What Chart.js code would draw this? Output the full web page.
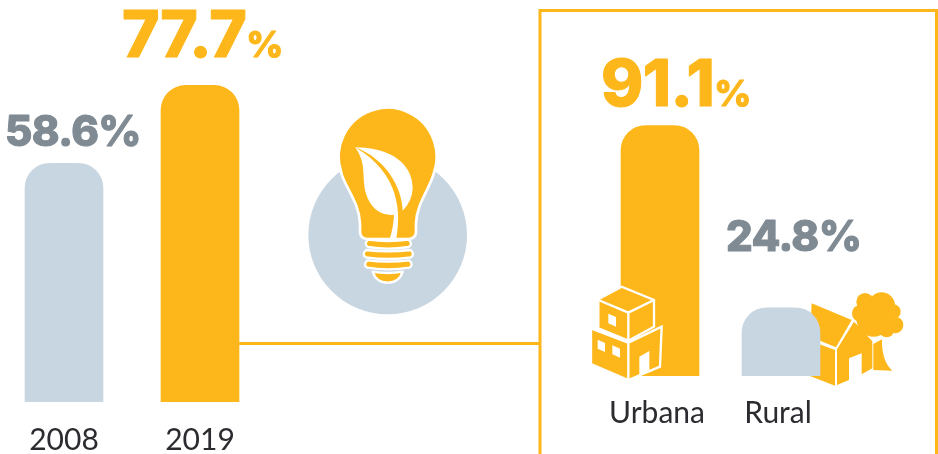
<!DOCTYPE html>
<html>
<head>
<meta charset="utf-8">
<script src="https://cdn.jsdelivr.net/npm/chart.js@4/dist/chart.umd.min.js"></script>
<style>
  html, body { margin: 0; padding: 0; background: #fff; overflow: hidden; }
  #wrap { position: relative; width: 938px; height: 454px; overflow: hidden; }
  .box { position: absolute; top: 0; height: 454px; }
</style>
</head>
<body>
<div id="wrap">
  <div class="box" style="left:-4px;width:942px"><canvas id="yearChart"></canvas></div>
  <div class="box" style="left:0;width:938px"><canvas id="areaChart"></canvas></div>
</div>
<script>
const years = ['2008', '2019'];
const yearValues = [58.6, 77.7];
const areas = ['Urbana', 'Rural'];
const areaValues = [91.1, 24.8];

const YELLOW = '#fdb71a';
const BLUE = '#c8d6e1';
const GREY = '#7f8a93';
const DARK = '#2c2b30';
const BIG = '800 64px Inter, sans-serif';
const BIG_PCT = '800 36px Inter, sans-serif';
const MID = '800 42px Inter, sans-serif';

function poly(ctx, pts) {
  ctx.beginPath();
  pts.forEach((p, i) => (i ? ctx.lineTo(p[0], p[1]) : ctx.moveTo(p[0], p[1])));
  ctx.closePath();
}

function drawBulb(ctx) {
  ctx.save();
  ctx.translate(290, 90);
  ctx.scale(1 / 3, 1 / 3);
  ctx.fillStyle = BLUE;
  ctx.beginPath();
  ctx.arc(293, 435, 238, 0, Math.PI * 2);
  ctx.fill();

  ctx.fillStyle = YELLOW;
  ctx.strokeStyle = '#fff';
  ctx.lineWidth = 8;
  ctx.lineJoin = 'round';
  ctx.beginPath();
  ctx.arc(293, 200, 147, Math.PI - 0.336, 0.336);
  ctx.bezierCurveTo(420, 295, 380, 340, 378, 400);
  ctx.lineTo(378, 425);
  ctx.quadraticCurveTo(378, 445, 355, 447);
  ctx.lineTo(232, 447);
  ctx.quadraticCurveTo(210, 445, 210, 425);
  ctx.lineTo(210, 400);
  ctx.bezierCurveTo(208, 340, 168, 295, 154, 250);
  ctx.closePath();
  ctx.fill();
  ctx.stroke();

  // screw threads
  ctx.lineWidth = 7;
  [[449, 226, 364], [480, 220, 370], [511, 224, 366]].forEach(t => {
    ctx.beginPath();
    ctx.moveTo(t[1] + 8, t[0]);
    ctx.quadraticCurveTo(293, t[0] + 8, t[2] - 8, t[0]);
    ctx.quadraticCurveTo(t[2] + 6, t[0] + 14, t[2] - 8, t[0] + 22);
    ctx.quadraticCurveTo(293, t[0] + 32, t[1] + 8, t[0] + 22);
    ctx.quadraticCurveTo(t[1] - 6, t[0] + 14, t[1] + 8, t[0]);
    ctx.closePath();
    ctx.fill();
    ctx.stroke();
  });
  ctx.beginPath();
  ctx.moveTo(248, 545);
  ctx.quadraticCurveTo(293, 553, 338, 545);
  ctx.quadraticCurveTo(328, 578, 293, 578);
  ctx.quadraticCurveTo(258, 578, 248, 545);
  ctx.closePath();
  ctx.fill();
  ctx.stroke();

  // leaf
  ctx.fillStyle = '#fff';
  ctx.beginPath();
  ctx.moveTo(195, 172);
  ctx.bezierCurveTo(300, 172, 368, 220, 368, 295);
  ctx.quadraticCurveTo(366, 335, 338, 362);
  ctx.bezierCurveTo(336, 290, 285, 205, 195, 172);
  ctx.closePath();
  ctx.fill();
  ctx.beginPath();
  ctx.moveTo(195, 172);
  ctx.bezierCurveTo(235, 225, 210, 270, 233, 325);
  ctx.bezierCurveTo(250, 365, 285, 378, 312, 374);
  ctx.quadraticCurveTo(310, 415, 298, 450);
  ctx.lineTo(317, 456);
  ctx.bezierCurveTo(335, 370, 330, 250, 195, 172);
  ctx.closePath();
  ctx.fill();
  ctx.restore();
}

function drawBuildings(ctx) {
  ctx.save();
  ctx.translate(580, 270);
  ctx.scale(1 / 3, 1 / 3);
  ctx.fillStyle = YELLOW;
  ctx.strokeStyle = '#fff';
  ctx.lineWidth = 7;
  ctx.lineJoin = 'miter';
  const faces = [
    [[55, 88], [125, 50], [222, 90], [222, 170], [145, 212], [55, 175]],
    [[33, 175], [145, 218], [245, 170], [240, 290], [145, 330], [33, 282]]
  ];
  faces.forEach(f => { poly(ctx, f); ctx.fill(); ctx.stroke(); });
  ctx.beginPath();
  ctx.moveTo(55, 90); ctx.lineTo(145, 128); ctx.lineTo(222, 90);
  ctx.moveTo(145, 128); ctx.lineTo(145, 212);
  ctx.moveTo(145, 218); ctx.lineTo(145, 330);
  ctx.stroke();
  ctx.fillStyle = '#fff';
  [
    [[85, 131], [108, 141], [108, 170], [85, 160]],
    [[53, 209], [75, 219], [75, 246], [53, 236]],
    [[97, 226], [120, 236], [120, 263], [97, 253]],
    [[178, 260], [208, 243], [208, 300], [178, 315]]
  ].forEach(w => { poly(ctx, w); ctx.fill(); });
  ctx.restore();
}

function drawHouse(ctx) {
  ctx.save();
  ctx.translate(580, 270);
  ctx.scale(1 / 3, 1 / 3);
  ctx.fillStyle = YELLOW;
  // tree crown
  [[855, 95, 26], [905, 107, 40], [940, 125, 22], [945, 165, 25], [920, 180, 22], [842, 130, 26], [880, 150, 50]].forEach(c => {
    ctx.beginPath();
    ctx.arc(c[0], c[1], c[2], 0, Math.PI * 2);
    ctx.fill();
  });
  // trunk
  ctx.beginPath();
  ctx.moveTo(880, 222);
  ctx.lineTo(906, 208);
  ctx.quadraticCurveTo(905, 275, 937, 302);
  ctx.lineTo(880, 300);
  ctx.closePath();
  ctx.fill();
  poly(ctx, [[695, 100], [815, 150], [768, 232], [690, 200]]);
  ctx.fill();
  poly(ctx, [[690, 212], [765, 240], [765, 347], [690, 318]]);
  ctx.fill();
  poly(ctx, [[771, 238], [822, 155], [877, 214], [877, 295], [845, 313], [845, 250], [807, 265], [807, 330], [771, 345]]);
  ctx.fill();
  ctx.restore();
}

// value labels sit left aligned, above their bars
function valueLabels(values, colors, fonts, pctFonts, rise, shift) {
  return {
    id: 'valueLabels',
    afterDatasetsDraw(chart) {
      const ctx = chart.ctx;
      ctx.save();
      ctx.textBaseline = 'alphabetic';
      ctx.textAlign = 'left';
      ctx.letterSpacing = '-0.6px';
      ctx.lineJoin = 'round';
      ctx.lineWidth = 1;
      chart.getDatasetMeta(0).data.forEach((bar, i) => {
        const x = bar.x + shift[i];
        const y = bar.y - rise[i];
        const num = values[i].toFixed(1);
        ctx.fillStyle = colors[i];
        ctx.strokeStyle = colors[i];
        ctx.font = fonts[i];
        ctx.fillText(num, x, y);
        ctx.strokeText(num, x, y);
        const w = ctx.measureText(num).width;
        ctx.font = pctFonts[i];
        ctx.fillText('%', x + w, y);
        ctx.strokeText('%', x + w, y);
      });
      ctx.restore();
    }
  };
}

function barOptions(padding, axisHeight, tickPad, labelOffset, yMax) {
  return {
    responsive: true,
    maintainAspectRatio: false,
    animation: false,
    layout: { padding },
    plugins: { legend: { display: false }, tooltip: { enabled: false } },
    scales: {
      y: { display: false, min: 0, max: yMax },
      x: {
        offset: true,
        border: { display: false },
        grid: { display: false },
        afterFit(scale) { scale.height = axisHeight; },
        ticks: {
          color: DARK,
          padding: tickPad,
          labelOffset,
          maxRotation: 0,
          font: { family: 'Lato, sans-serif', size: 30 }
        }
      }
    }
  };
}

const topRound = { topLeft: 25, topRight: 25, bottomLeft: 0, bottomRight: 0 };

new Chart(document.getElementById('yearChart'), {
  type: 'bar',
  data: {
    labels: years,
    datasets: [{
      data: yearValues,
      backgroundColor: [BLUE, YELLOW],
      barThickness: 78,
      borderRadius: topRound,
      borderSkipped: false
    }]
  },
  options: barOptions({ left: 0, right: 670, top: 76, bottom: 0 }, 52, 12, 0, 80),
  plugins: [valueLabels(yearValues, [GREY, YELLOW], [MID, BIG], [MID, BIG_PCT], [17, 28], [-59, -78])]
});

new Chart(document.getElementById('areaChart'), {
  type: 'bar',
  data: {
    labels: areas,
    datasets: [{
      data: areaValues,
      backgroundColor: [YELLOW, BLUE],
      barThickness: 78,
      borderRadius: topRound,
      borderSkipped: false
    }]
  },
  options: barOptions({ left: 599.5, right: 96.5, top: 101, bottom: 0 }, 78, 11, -3, 100),
  plugins: [
    {
      id: 'decor',
      beforeDatasetsDraw(chart) {
        const ctx = chart.ctx;
        ctx.save();
        ctx.strokeStyle = YELLOW;
        ctx.lineWidth = 3;
        ctx.beginPath();
        ctx.moveTo(239, 343.5);
        ctx.lineTo(540, 343.5);
        ctx.moveTo(540, 460);
        ctx.lineTo(540, 10.5);
        ctx.lineTo(936.5, 10.5);
        ctx.lineTo(936.5, 460);
        ctx.stroke();
        ctx.restore();
        drawBulb(ctx);
        drawHouse(ctx);
      },
      afterDatasetsDraw(chart) {
        drawBuildings(chart.ctx);
      }
    },
    valueLabels(areaValues, [YELLOW, GREY], [BIG, MID], [BIG_PCT, MID], [19, 57], [-59, -55])
  ]
});
</script>
</body>
</html>
